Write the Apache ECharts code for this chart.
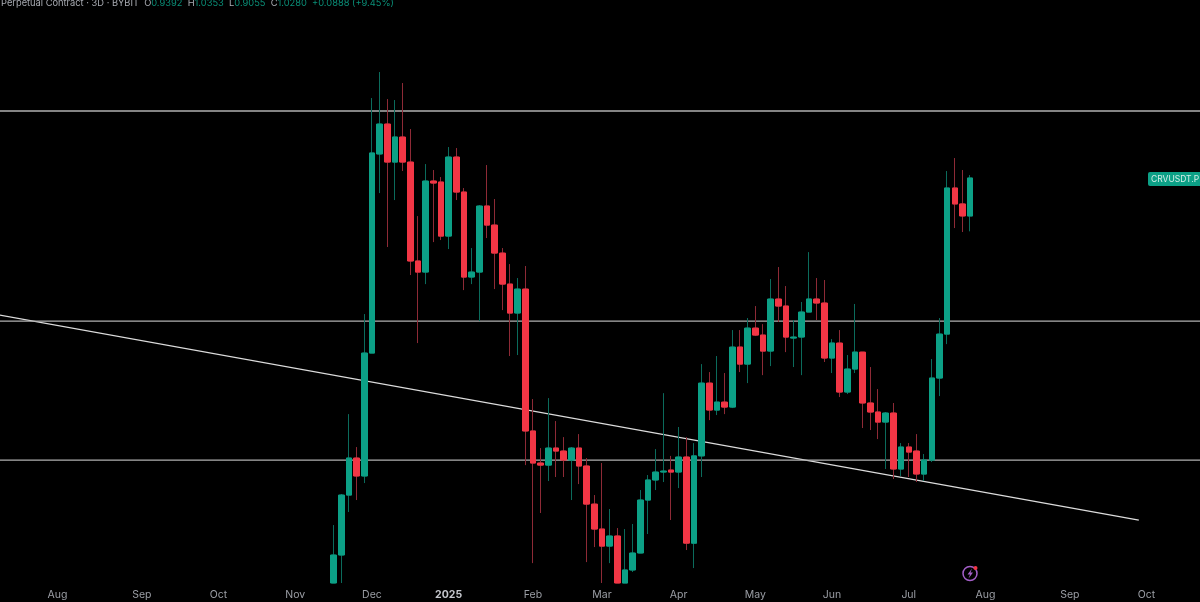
<!DOCTYPE html>
<html>
<head>
<meta charset="utf-8">
<style>html,body{margin:0;padding:0;background:#000}#c{width:1200px;height:602px}</style>
<script src="https://cdn.jsdelivr.net/npm/echarts@6/dist/echarts.min.js"></script>
</head>
<body>
<div id="c"></div>
<script>
// 3-day candles, CRVUSDT.P (lowest candles are read only down to the bottom edge of the visible pane)
const opens = [.3920,.4190,.4833,.5278,.5057,.6777,1.0885,1.1690,1.0678,1.1334,1.0678,.8437,.8218,1.0207,1.0182,.8953,1.0807,.9942,.8121,.8218,.9617,.9191,.8598,.7986,.7454,.7892,.5629,.5216,.5190,.5405,.5367,.5253,.5405,.5179,.4730,.4457,.4280,.4384,.3920,.4043,.4210,.4776,.5009,.5105,.5129,.5105,.5291,.4310,.5305,.6309,.5917,.6030,.5959,.6874,.6601,.7192,.7073,.6809,.7707,.7579,.7023,.7040,.7472,.7707,.7634,.6697,.6940,.6176,.6524,.6792,.6017,.5889,.5750,.5875,.5142,.5418,.5367,.5081,.5253,.6385,.7090,1.0038,.9665,.9392];
const closes = [.4190,.4833,.5278,.5057,.6777,1.0911,1.1690,1.0678,1.1334,1.0678,.8437,.8218,1.0207,1.0158,.8953,1.0807,.9942,.8121,.8218,.9617,.9191,.8598,.7986,.7454,.7892,.5629,.5216,.5190,.5405,.5367,.5253,.5405,.5179,.4730,.4457,.4280,.4384,.3920,.4043,.4210,.4776,.5009,.5105,.5117,.5105,.5291,.4310,.5305,.6309,.5917,.6030,.5959,.6874,.6601,.7192,.7073,.6809,.7707,.7579,.7040,.7040,.7472,.7707,.7634,.6697,.6940,.6176,.6524,.6792,.6017,.5889,.5750,.5875,.5142,.5418,.5354,.5081,.5253,.6385,.7090,1.0038,.9665,.9392,1.0280];
const lows = [.3920,.3920,.4642,.4776,.4973,.6777,.9918,.8723,.9755,1.0453,.8160,.6940,.7986,.8826,.8869,.8681,.9755,.7873,.7986,.7313,.8911,.7892,.7507,.6729,.6745,.5190,.4110,.4631,.4997,.5045,.5045,.4776,.4961,.4120,.4270,.3920,.4110,.3920,.3920,.4024,.4210,.4405,.4891,.4985,.4554,.4914,.4240,.4062,.5045,.5777,.5847,.5860,.5945,.6477,.6309,.7057,.6430,.6570,.7297,.6792,.6555,.6430,.7472,.7331,.6634,.6462,.6103,.6147,.6462,.5669,.5642,.5522,.5142,.5021,.5057,.5045,.4985,.4997,.5228,.6117,.6923,.9126,.9040,.9055];
const highs = [.4500,.4845,.5860,.5418,.7436,1.2437,1.3231,1.2407,1.2378,1.2889,1.1552,.9390,1.0628,1.0478,1.0304,1.1067,1.1041,1.0038,.8702,.9640,1.0603,.9779,.8702,.8376,.8102,.8337,.6074,.5405,.6088,.5764,.5548,.5418,.5588,.5278,.4833,.5216,.4675,.4468,.4457,.4511,.4891,.5069,.5392,.6160,.5305,.5683,.5548,.5469,.6601,.6477,.6729,.6462,.7158,.7158,.7366,.7579,.7260,.8083,.8317,.7949,.7331,.7653,.8618,.8102,.8064,.7006,.7158,.6745,.7617,.6792,.6555,.6220,.5889,.6017,.5470,.5470,.5588,.5329,.6681,.7366,1.0453,1.0781,1.0478,1.0353];
const firstCandleSlot = 45;
const slotCount = 159;
const tickSlots = [9,20,30,40,50,60,71,80,90,100,110,120,130,141,151];
const tickNames = ['Aug','Sep','Oct','Nov','Dec','2025','Feb','Mar','Apr','May','Jun','Jul','Aug','Sep','Oct'];
const levels = [1.2058,.7313,.5253];
const trendSlots = [0,150];
const trendPrices = [.7454,.4554];
const priceMin = .392, priceMax = 1.5706;

const UP = '#0ca086', DOWN = '#f23645';
const categories = Array.from({length: slotCount}, (_, i) => {
  const k = tickSlots.indexOf(i);
  return k >= 0 ? tickNames[k] : '';
});
const full = opens.map((o, i) => [firstCandleSlot + i, o, closes[i], lows[i], highs[i]]);
const bodies = opens.map((o, i) => [firstCandleSlot + i, o, closes[i], Math.min(o, closes[i]), Math.max(o, closes[i])]);

const chart = echarts.init(document.getElementById('c'), null, {renderer: 'canvas'});
chart.setOption({
  backgroundColor: '#000',
  animation: false,
  title: {
    left: 1, top: -1, padding: 0,
    text: '{w|Perpetual Contract · 3D · BYBIT}  {w|O}{g|0.9392}  {w|H}{g|1.0353}  {w|L}{g|0.9055}  {w|C}{g|1.0280}  {g|+0.0888 (+9.45%)}',
    textStyle: {
      fontFamily: 'Inter, Roboto, sans-serif', fontSize: 9.3, fontWeight: 'normal',
      rich: {
        w: {color: '#a9acb3', fontFamily: 'Inter, sans-serif', fontSize: 9.3},
        g: {color: '#0a8f78', fontFamily: 'Inter, sans-serif', fontSize: 9.3}
      }
    }
  },
  grid: {left: -15.34, right: -4, top: 0, bottom: 19, containLabel: false, outerBoundsMode: 'none'},
  xAxis: {
    type: 'category', data: categories, boundaryGap: true,
    axisLine: {show: false}, axisTick: {show: false}, splitLine: {show: false},
    axisLabel: {
      interval: (i, v) => v !== '', margin: 6, color: '#9b9ea5', fontSize: 10.5,
      fontFamily: 'Inter, sans-serif',
      formatter: v => v === '2025' ? '{b|2025}' : v,
      rich: {b: {color: '#c4c6cc', fontWeight: 'bold', fontSize: 10.5, fontFamily: 'Inter, sans-serif'}}
    }
  },
  yAxis: {
    type: 'log', logBase: 10, min: priceMin, max: priceMax, scale: true,
    axisLine: {show: false}, axisTick: {show: false}, axisLabel: {show: false},
    splitLine: {show: false}, minorSplitLine: {show: false}
  },
  series: [
    {
      type: 'line', z: 1, symbol: 'none', silent: true,
      data: [[trendSlots[0], trendPrices[0]], [trendSlots[1], trendPrices[1]]],
      lineStyle: {color: '#dcdcdc', width: 1.3}
    },
    ...levels.map(v => ({
      type: 'line', z: 1, symbol: 'none', silent: true,
      data: [[0, v], [slotCount - 1, v]],
      lineStyle: {color: '#b0b0b0', width: 1.3}
    })),
    {
      type: 'candlestick', z: 2, barWidth: 5, clip: true,
      encode: {x: 0, y: [1, 2, 3, 4]},
      data: full,
      itemStyle: {color: '#0b6b5c', color0: '#8e2a36', borderColor: '#0b6b5c', borderColor0: '#8e2a36', borderWidth: 1}
    },
    {
      type: 'candlestick', z: 3, barWidth: 6, clip: true,
      encode: {x: 0, y: [1, 2, 3, 4]},
      data: bodies,
      itemStyle: {color: UP, color0: DOWN, borderColor: UP, borderColor0: DOWN, borderWidth: 1}
    }
  ],
  graphic: [
    {type: 'text', left: 1148, top: 172, z: 10, silent: true,
      style: {text: 'CRVUSDT.P', fill: '#d6efe9', font: '8.5px Inter, sans-serif',
        backgroundColor: UP, padding: [2.5, 3, 2.5, 3], borderRadius: 2}},
    {type: 'circle', shape: {cx: 970, cy: 573.5, r: 7}, z: 10, silent: true,
      style: {fill: 'none', stroke: '#a45fc9', lineWidth: 1.5}},
    {type: 'polygon', z: 10, silent: true,
      shape: {points: [[972, 568.5], [967.5, 574.5], [970, 574.5], [968.5, 578.5], [973, 572.5], [970.5, 572.5]]},
      style: {fill: '#a45fc9'}},
    {type: 'circle', shape: {cx: 975.5, cy: 568, r: 2}, z: 11, silent: true, style: {fill: '#f23645'}}
  ]
});
</script>
</body>
</html>
